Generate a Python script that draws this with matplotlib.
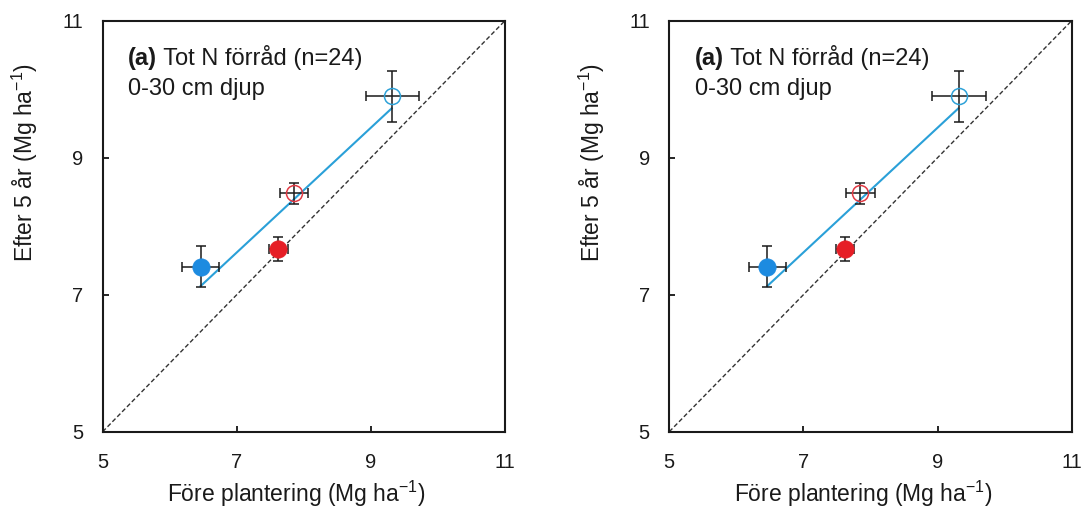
import matplotlib
matplotlib.use("Agg")
import matplotlib.pyplot as plt

# --- data ---
x_before = [6.46, 7.62, 7.85, 9.32]      # Före plantering
y_after = [7.41, 7.665, 8.48, 9.895]     # Efter 5 år
x_err = [0.275, 0.14, 0.21, 0.40]
y_err = [0.305, 0.17, 0.155, 0.37]
filled = [True, True, False, False]
point_colors = ['#1d8be0', '#e61e26', '#e23a44', '#2fa2d8']

# fitted line (end points as drawn)
fit_x = [6.46, 9.31]
fit_y = [7.125, 9.72]

ticks = [5, 7, 9, 11]

# --- style ---
plt.rcParams['font.family'] = ['Liberation Sans', 'DejaVu Sans']
plt.rcParams['mathtext.fontset'] = 'custom'
plt.rcParams['mathtext.rm'] = 'Liberation Sans'
plt.rcParams['mathtext.default'] = 'regular'
txt_color = '#1a1a1a'

fig = plt.figure(figsize=(10.83, 5.08), dpi=100)
ax1 = fig.add_axes([0.0948, 0.1502, 0.3715, 0.8091])
ax2 = fig.add_axes([0.6180, 0.1502, 0.3716, 0.8091])


def draw_panel(ax):
    # 1:1 line
    ax.plot(ticks[::len(ticks) - 1], ticks[::len(ticks) - 1], ls=(0, (3.2, 1.8)),
            color='#333333', lw=1.0, zorder=1)
    # regression line
    ax.plot(fit_x, fit_y, color='#2aa0d8', lw=1.5, zorder=2)

    for xv, yv, xe, ye, f, c in zip(x_before, y_after, x_err, y_err, filled, point_colors):
        ax.errorbar(xv, yv, xerr=xe, yerr=ye, fmt='none', ecolor='#1a1a1a',
                    elinewidth=1.1, capsize=3.5, capthick=1.1, zorder=3)
        if f:
            ax.plot(xv, yv, 'o', ms=12.5, mfc=c, mec=c, mew=0.5, zorder=4)
        else:
            ax.plot(xv, yv, 'o', ms=11.5, mfc='none', mec=c, mew=1.1, zorder=4)

    ax.set_xlim(5, 11)
    ax.set_ylim(5, 11)
    ax.set_xticks(ticks)
    ax.set_yticks(ticks)
    ax.tick_params(axis='both', direction='in', length=4, width=1.2,
                   labelsize=14.5, labelcolor=txt_color)
    ax.tick_params(axis='x', pad=15)
    ax.tick_params(axis='y', pad=14)
    for s in ax.spines.values():
        s.set_linewidth(1.5)
        s.set_color('#1a1a1a')

    ax.set_xlabel('Före plantering (Mg ha$^{-1}$)', fontsize=16.5, color=txt_color)
    ax.set_ylabel('Efter 5 år (Mg ha$^{-1}$)', fontsize=16.5, color=txt_color)
    ax.xaxis.set_label_coords(0.481, -0.114)
    ax.yaxis.set_label_coords(-0.193, 0.656)
    ax.yaxis.label.set_verticalalignment('center')

    # panel annotation
    t1 = ax.text(0.063, 0.892, '(a)', transform=ax.transAxes, fontsize=17,
                 fontweight='bold', color=txt_color, va='baseline')
    ax.annotate(' Tot N förråd (n=24)', xy=(1, 0), xycoords=t1, fontsize=17,
                color=txt_color, va='bottom')
    ax.text(0.063, 0.819, '0-30 cm djup', transform=ax.transAxes, fontsize=17,
            color=txt_color, va='baseline')


draw_panel(ax1)
draw_panel(ax2)

plt.savefig('out.png', dpi=100)
